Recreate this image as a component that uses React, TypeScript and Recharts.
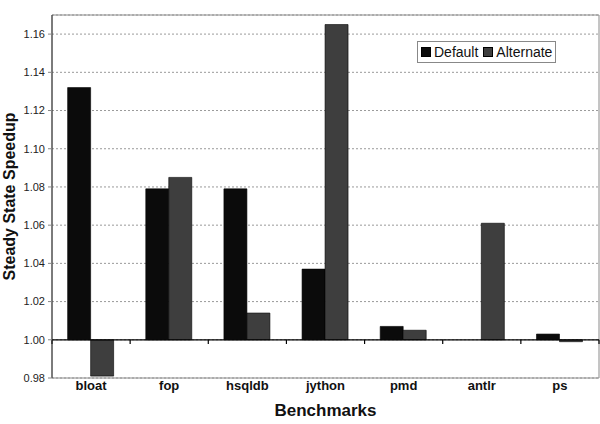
import React from 'react';
import {
  BarChart,
  Bar,
  XAxis,
  YAxis,
  CartesianGrid,
  ReferenceLine,
  ReferenceArea,
  Legend,
} from 'recharts';

const categories = ['bloat', 'fop', 'hsqldb', 'jython', 'pmd', 'antlr', 'ps'];
const seriesNames = ['Default', 'Alternate'];
const defaultSpeedup = [1.132, 1.079, 1.079, 1.037, 1.007, 1.0, 1.003];
const alternateSpeedup = [0.981, 1.085, 1.014, 1.165, 1.005, 1.061, 0.999];
const yTicks = [0.98, 1.0, 1.02, 1.04, 1.06, 1.08, 1.1, 1.12, 1.14, 1.16];
const yDomain: [number, number] = [0.98, 1.17];
const baseline = 1;

const FONT = '"Liberation Sans", Arial, sans-serif';

// bars grow up or down from the 1.00 line, so each one is a [base, value] range
const data = categories.map((name, i) => ({
  name,
  def: [baseline, defaultSpeedup[i]],
  alt: [baseline, alternateSpeedup[i]],
}));

function LegendBox({ payload }: any) {
  return (
    <div
      style={{
        display: 'flex',
        alignItems: 'center',
        border: '1px solid #888',
        background: '#fff',
        padding: '1px 3px',
        fontFamily: FONT,
        fontSize: 14,
        lineHeight: '18px',
        color: '#111',
        whiteSpace: 'nowrap',
      }}
    >
      {(payload || []).map((p: any, i: number) => (
        <span key={p.value} style={{ display: 'flex', alignItems: 'center', marginLeft: i ? 5 : 0 }}>
          <span
            style={{
              display: 'inline-block',
              width: 10,
              height: 10,
              background: p.color,
              border: '1px solid #000',
              boxSizing: 'border-box',
              marginRight: 3,
            }}
          />
          {p.value}
        </span>
      ))}
    </div>
  );
}

export default function App() {
  const last = categories[categories.length - 1];
  return (
    <div style={{ position: 'absolute', left: 0, top: 0, background: '#fff' }}>
      <BarChart
        width={600}
        height={424}
        data={data}
        margin={{ top: 15, right: 1, left: 0, bottom: 0 }}
        barCategoryGap="20%"
        barGap={0}
      >
        <CartesianGrid horizontal vertical={false} stroke="#9a9a9a" strokeDasharray="2 2" />
        <ReferenceArea y1={yDomain[0]} y2={yDomain[1]} fill="none" stroke="#8a8a8a" strokeWidth={1} />
        <XAxis
          dataKey="name"
          height={46}
          axisLine={false}
          tickLine={false}
          tickSize={1}
          tickMargin={2}
          interval={0}
          tick={{ fill: '#111', fontSize: 13, fontWeight: 'bold', fontFamily: FONT }}
          label={{
            value: 'Benchmarks',
            position: 'insideBottom',
            offset: 8,
            style: { fill: '#111', fontSize: 17, fontWeight: 'bold', fontFamily: FONT },
          }}
        />
        <YAxis
          width={52}
          domain={yDomain}
          ticks={yTicks}
          allowDataOverflow
          stroke="#333"
          tickSize={4}
          tickMargin={3}
          tickLine={{ stroke: '#888' }}
          tickFormatter={(v: number) => v.toFixed(2)}
          tick={{ fill: '#222', fontSize: 11, fontFamily: FONT }}
          label={{
            value: 'Steady State Speedup',
            angle: -90,
            position: 'insideLeft',
            offset: 9,
            style: { textAnchor: 'middle', fill: '#111', fontSize: 16, fontWeight: 'bold', fontFamily: FONT },
          }}
        />
        <Legend
          layout="vertical"
          align="center"
          verticalAlign="middle"
          content={LegendBox}
          itemSorter={(item: any) => seriesNames.indexOf(item.value)}
          wrapperStyle={{ left: 417, top: 41, width: 'auto', height: 'auto' }}
        />
        <Bar dataKey="def" name={seriesNames[0]} fill="#0b0b0b" stroke="#000" strokeWidth={0.6} isAnimationActive={false} />
        <Bar dataKey="alt" name={seriesNames[1]} fill="#3e3e3e" stroke="#000" strokeWidth={0.6} isAnimationActive={false} />
        <ReferenceLine y={baseline} stroke="#000" strokeWidth={1.2} />
        {categories.map((c) => (
          <ReferenceLine
            key={c}
            segment={[
              { x: c, y: baseline },
              { x: c, y: baseline - 0.0022 },
            ]}
            position="start"
            stroke="#000"
            strokeWidth={1.2}
          />
        ))}
        <ReferenceLine
          segment={[
            { x: last, y: baseline },
            { x: last, y: baseline - 0.0022 },
          ]}
          position="end"
          stroke="#000"
          strokeWidth={1.2}
        />
      </BarChart>
    </div>
  );
}
